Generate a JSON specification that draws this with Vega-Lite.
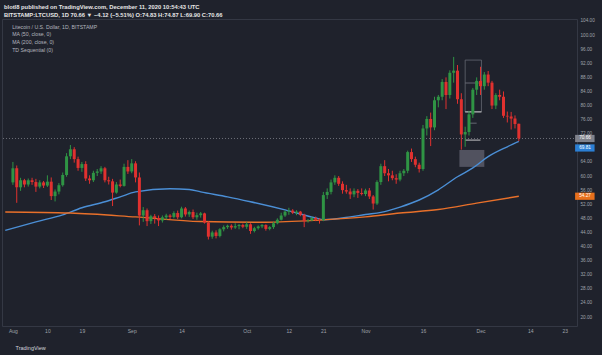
{
  "$schema": "https://vega.github.io/schema/vega-lite/v6.json",
  "width": 575,
  "height": 307,
  "autosize": {"type": "none"},
  "padding": {"left": 2, "top": 19, "right": 25, "bottom": 29},
  "background": "#1f222c",
  "config": {
    "view": {"stroke": "#343844", "strokeWidth": 1},
    "font": "Liberation Sans",
    "legend": {"labelLimit": 0}
  },
  "title": {
    "text": "blotl8 published on TradingView.com, December 11, 2020 10:54:43 UTC",
    "subtitle": "BITSTAMP:LTCUSD, 1D  70.66 ▼ −4.12 (−5.51%)  O:74.83  H:74.87  L:69.90  C:70.66",
    "anchor": "start",
    "frame": "group",
    "orient": "top",
    "offset": 0,
    "dx": 2,
    "font": "Liberation Sans",
    "fontSize": 5.8,
    "fontWeight": "bold",
    "color": "#e6e6e6",
    "subtitleFont": "Liberation Sans",
    "subtitleFontSize": 5.8,
    "subtitleFontWeight": "bold",
    "subtitleColor": "#e6e6e6",
    "subtitlePadding": 2.8
  },
  "datasets": {
    "candles": [
      {"d": "2020-08-01", "o": 58.2, "h": 64.0, "l": 57.5, "c": 62.2},
      {"d": "2020-08-02", "o": 62.2, "h": 63.0, "l": 52.4, "c": 56.8},
      {"d": "2020-08-03", "o": 56.8, "h": 59.5, "l": 55.8, "c": 58.8},
      {"d": "2020-08-04", "o": 58.8, "h": 59.2, "l": 56.8, "c": 57.6},
      {"d": "2020-08-05", "o": 57.6, "h": 59.3, "l": 57.0, "c": 58.8},
      {"d": "2020-08-06", "o": 58.8, "h": 59.5, "l": 57.5, "c": 58.3},
      {"d": "2020-08-07", "o": 58.3, "h": 59.2, "l": 55.5, "c": 57.0},
      {"d": "2020-08-08", "o": 57.0, "h": 58.8, "l": 56.5, "c": 58.2},
      {"d": "2020-08-09", "o": 58.2, "h": 58.6, "l": 56.6, "c": 57.3},
      {"d": "2020-08-10", "o": 57.3, "h": 60.2, "l": 56.9, "c": 58.4},
      {"d": "2020-08-11", "o": 58.4, "h": 59.6, "l": 53.2, "c": 54.3},
      {"d": "2020-08-12", "o": 54.3, "h": 56.2, "l": 52.8, "c": 55.6},
      {"d": "2020-08-13", "o": 55.6, "h": 58.0, "l": 54.8, "c": 57.4},
      {"d": "2020-08-14", "o": 57.4, "h": 61.0, "l": 57.0, "c": 60.3},
      {"d": "2020-08-15", "o": 60.3, "h": 66.5, "l": 59.8, "c": 65.6},
      {"d": "2020-08-16", "o": 65.6, "h": 68.8, "l": 64.8, "c": 67.6},
      {"d": "2020-08-17", "o": 67.6, "h": 68.2, "l": 63.8, "c": 64.8},
      {"d": "2020-08-18", "o": 64.8, "h": 65.5, "l": 61.5, "c": 62.3},
      {"d": "2020-08-19", "o": 62.3, "h": 64.0, "l": 61.2, "c": 63.4},
      {"d": "2020-08-20", "o": 63.4, "h": 64.2, "l": 58.6, "c": 59.3},
      {"d": "2020-08-21", "o": 59.3, "h": 60.2, "l": 57.8, "c": 58.8},
      {"d": "2020-08-22", "o": 58.8, "h": 61.5, "l": 58.3, "c": 60.9},
      {"d": "2020-08-23", "o": 60.9, "h": 62.0, "l": 60.0, "c": 61.3},
      {"d": "2020-08-24", "o": 61.3, "h": 62.8, "l": 60.6, "c": 62.2},
      {"d": "2020-08-25", "o": 62.2, "h": 62.6, "l": 58.2, "c": 58.8},
      {"d": "2020-08-26", "o": 58.8, "h": 59.8, "l": 57.6, "c": 58.5},
      {"d": "2020-08-27", "o": 58.5, "h": 59.2, "l": 51.5, "c": 55.3},
      {"d": "2020-08-28", "o": 55.3, "h": 58.3, "l": 55.0, "c": 57.6},
      {"d": "2020-08-29", "o": 57.6, "h": 59.0, "l": 56.8, "c": 57.2},
      {"d": "2020-08-30", "o": 57.2, "h": 63.5, "l": 57.0, "c": 62.6},
      {"d": "2020-08-31", "o": 62.6, "h": 64.5, "l": 60.6, "c": 61.3},
      {"d": "2020-09-01", "o": 61.3, "h": 64.8, "l": 60.8, "c": 63.6},
      {"d": "2020-09-02", "o": 63.6, "h": 64.2, "l": 58.2, "c": 59.6},
      {"d": "2020-09-03", "o": 59.6, "h": 61.0, "l": 46.0, "c": 48.8},
      {"d": "2020-09-04", "o": 48.8, "h": 51.2, "l": 47.0, "c": 50.3},
      {"d": "2020-09-05", "o": 50.3, "h": 50.8, "l": 45.8, "c": 47.2},
      {"d": "2020-09-06", "o": 47.2, "h": 49.0, "l": 46.4, "c": 48.6},
      {"d": "2020-09-07", "o": 48.6, "h": 49.2, "l": 46.5, "c": 48.1},
      {"d": "2020-09-08", "o": 48.1, "h": 48.8, "l": 45.8, "c": 47.4},
      {"d": "2020-09-09", "o": 47.4, "h": 48.8, "l": 46.8, "c": 48.3},
      {"d": "2020-09-10", "o": 48.3, "h": 49.3, "l": 47.6, "c": 48.8},
      {"d": "2020-09-11", "o": 48.8, "h": 49.2, "l": 47.8, "c": 48.4},
      {"d": "2020-09-12", "o": 48.4, "h": 50.0, "l": 48.0, "c": 49.5},
      {"d": "2020-09-13", "o": 49.5, "h": 50.2, "l": 47.8, "c": 48.3},
      {"d": "2020-09-14", "o": 48.3, "h": 51.3, "l": 48.0, "c": 50.8},
      {"d": "2020-09-15", "o": 50.8, "h": 51.2, "l": 48.5, "c": 49.1},
      {"d": "2020-09-16", "o": 49.1, "h": 50.2, "l": 48.4, "c": 49.8},
      {"d": "2020-09-17", "o": 49.8, "h": 50.5, "l": 47.8, "c": 48.3},
      {"d": "2020-09-18", "o": 48.3, "h": 49.6, "l": 47.6, "c": 48.9},
      {"d": "2020-09-19", "o": 48.9, "h": 49.8, "l": 48.2, "c": 49.4},
      {"d": "2020-09-20", "o": 49.4, "h": 49.6, "l": 46.5, "c": 46.8},
      {"d": "2020-09-21", "o": 46.8, "h": 47.2, "l": 42.0, "c": 42.8},
      {"d": "2020-09-22", "o": 42.8, "h": 44.5, "l": 42.2, "c": 44.0},
      {"d": "2020-09-23", "o": 44.0, "h": 44.6, "l": 42.3, "c": 43.0},
      {"d": "2020-09-24", "o": 43.0, "h": 45.2, "l": 42.6, "c": 44.9},
      {"d": "2020-09-25", "o": 44.9, "h": 46.0, "l": 44.3, "c": 45.5},
      {"d": "2020-09-26", "o": 45.5, "h": 46.2, "l": 45.0, "c": 45.9},
      {"d": "2020-09-27", "o": 45.9, "h": 46.3, "l": 44.8, "c": 45.4},
      {"d": "2020-09-28", "o": 45.4, "h": 46.6, "l": 45.0, "c": 45.8},
      {"d": "2020-09-29", "o": 45.8, "h": 46.4, "l": 44.9, "c": 46.1},
      {"d": "2020-09-30", "o": 46.1, "h": 46.5, "l": 45.2, "c": 45.6},
      {"d": "2020-10-01", "o": 45.6, "h": 47.0, "l": 45.0, "c": 46.3},
      {"d": "2020-10-02", "o": 46.3, "h": 46.6, "l": 43.6, "c": 44.4},
      {"d": "2020-10-03", "o": 44.4, "h": 45.6, "l": 44.0, "c": 45.2},
      {"d": "2020-10-04", "o": 45.2, "h": 46.0, "l": 44.8, "c": 45.7},
      {"d": "2020-10-05", "o": 45.7, "h": 46.4, "l": 45.2, "c": 46.1},
      {"d": "2020-10-06", "o": 46.1, "h": 46.3, "l": 44.5, "c": 45.0},
      {"d": "2020-10-07", "o": 45.0, "h": 45.8, "l": 44.6, "c": 45.5},
      {"d": "2020-10-08", "o": 45.5, "h": 47.0, "l": 45.0, "c": 46.6},
      {"d": "2020-10-09", "o": 46.6, "h": 48.0, "l": 46.3, "c": 47.6},
      {"d": "2020-10-10", "o": 47.6, "h": 49.6, "l": 47.4, "c": 48.8},
      {"d": "2020-10-11", "o": 48.8, "h": 50.2, "l": 48.4, "c": 49.9},
      {"d": "2020-10-12", "o": 49.9, "h": 51.0, "l": 49.0, "c": 50.2},
      {"d": "2020-10-13", "o": 50.2, "h": 50.6, "l": 49.2, "c": 49.6},
      {"d": "2020-10-14", "o": 49.6, "h": 50.3, "l": 48.9, "c": 49.9},
      {"d": "2020-10-15", "o": 49.9, "h": 50.1, "l": 48.6, "c": 49.0},
      {"d": "2020-10-16", "o": 49.0, "h": 49.3, "l": 45.5, "c": 47.2},
      {"d": "2020-10-17", "o": 47.2, "h": 47.8, "l": 46.8, "c": 47.4},
      {"d": "2020-10-18", "o": 47.4, "h": 48.5, "l": 47.2, "c": 48.1},
      {"d": "2020-10-19", "o": 48.1, "h": 48.5, "l": 47.2, "c": 47.6},
      {"d": "2020-10-20", "o": 47.6, "h": 48.0, "l": 46.5, "c": 47.5},
      {"d": "2020-10-21", "o": 47.5, "h": 55.5, "l": 47.2, "c": 54.6},
      {"d": "2020-10-22", "o": 54.6, "h": 56.5, "l": 53.5, "c": 55.5},
      {"d": "2020-10-23", "o": 55.5, "h": 59.0, "l": 54.8, "c": 58.2},
      {"d": "2020-10-24", "o": 58.2, "h": 60.2, "l": 57.5, "c": 59.5},
      {"d": "2020-10-25", "o": 59.5, "h": 60.0, "l": 57.2, "c": 57.8},
      {"d": "2020-10-26", "o": 57.8, "h": 58.5, "l": 55.0, "c": 56.0},
      {"d": "2020-10-27", "o": 56.0, "h": 57.5, "l": 55.0, "c": 55.6},
      {"d": "2020-10-28", "o": 55.6, "h": 56.5, "l": 53.5, "c": 54.8},
      {"d": "2020-10-29", "o": 54.8, "h": 56.5, "l": 54.0, "c": 55.8},
      {"d": "2020-10-30", "o": 55.8, "h": 56.3, "l": 53.8, "c": 55.2},
      {"d": "2020-10-31", "o": 55.2, "h": 56.5, "l": 54.5, "c": 54.9},
      {"d": "2020-11-01", "o": 54.9, "h": 56.4, "l": 54.3, "c": 55.9},
      {"d": "2020-11-02", "o": 55.9, "h": 56.6, "l": 53.5, "c": 54.2},
      {"d": "2020-11-03", "o": 54.2, "h": 54.6, "l": 50.5, "c": 52.2},
      {"d": "2020-11-04", "o": 52.2, "h": 58.8, "l": 51.8, "c": 58.3},
      {"d": "2020-11-05", "o": 58.3, "h": 63.5, "l": 57.5, "c": 62.8},
      {"d": "2020-11-06", "o": 62.8, "h": 64.5, "l": 60.0, "c": 60.8},
      {"d": "2020-11-07", "o": 60.8, "h": 62.0, "l": 58.5, "c": 60.2},
      {"d": "2020-11-08", "o": 60.2, "h": 61.5, "l": 58.8, "c": 59.4},
      {"d": "2020-11-09", "o": 59.4, "h": 60.5, "l": 57.8, "c": 59.0},
      {"d": "2020-11-10", "o": 59.0, "h": 61.5, "l": 58.5, "c": 60.8},
      {"d": "2020-11-11", "o": 60.8, "h": 62.0, "l": 60.0, "c": 61.5},
      {"d": "2020-11-12", "o": 61.5, "h": 67.2, "l": 60.8, "c": 66.8},
      {"d": "2020-11-13", "o": 66.8, "h": 67.8, "l": 64.0, "c": 64.8},
      {"d": "2020-11-14", "o": 64.8, "h": 65.5, "l": 62.5, "c": 63.2},
      {"d": "2020-11-15", "o": 63.2, "h": 63.8, "l": 61.0, "c": 62.0},
      {"d": "2020-11-16", "o": 62.0, "h": 74.5, "l": 61.5, "c": 73.5},
      {"d": "2020-11-17", "o": 73.5, "h": 77.0, "l": 71.5, "c": 76.2},
      {"d": "2020-11-18", "o": 76.2, "h": 78.0, "l": 68.5, "c": 73.8},
      {"d": "2020-11-19", "o": 73.8, "h": 82.5, "l": 73.0, "c": 81.5},
      {"d": "2020-11-20", "o": 81.5, "h": 83.0, "l": 79.5, "c": 82.5},
      {"d": "2020-11-21", "o": 82.5, "h": 87.5, "l": 81.5, "c": 86.7},
      {"d": "2020-11-22", "o": 86.7, "h": 88.0, "l": 79.0, "c": 83.0},
      {"d": "2020-11-23", "o": 83.0, "h": 90.0, "l": 82.0, "c": 89.3},
      {"d": "2020-11-24", "o": 89.3, "h": 93.8, "l": 86.5, "c": 89.9},
      {"d": "2020-11-25", "o": 89.9, "h": 91.5, "l": 80.5, "c": 81.8},
      {"d": "2020-11-26", "o": 81.8, "h": 83.5, "l": 67.5, "c": 71.8},
      {"d": "2020-11-27", "o": 71.8, "h": 74.0, "l": 68.3, "c": 72.5},
      {"d": "2020-11-28", "o": 72.5, "h": 78.5, "l": 71.5, "c": 77.5},
      {"d": "2020-11-29", "o": 77.5, "h": 85.0, "l": 76.5, "c": 84.5},
      {"d": "2020-11-30", "o": 84.5, "h": 88.0, "l": 83.0, "c": 87.0},
      {"d": "2020-12-01", "o": 87.0, "h": 91.0, "l": 83.0, "c": 85.5},
      {"d": "2020-12-02", "o": 85.5, "h": 89.5, "l": 84.5, "c": 88.8},
      {"d": "2020-12-03", "o": 88.8, "h": 89.8, "l": 85.5, "c": 86.5},
      {"d": "2020-12-04", "o": 86.5, "h": 87.0, "l": 79.0, "c": 80.0},
      {"d": "2020-12-05", "o": 80.0, "h": 83.5, "l": 79.0, "c": 83.0},
      {"d": "2020-12-06", "o": 83.0, "h": 84.5, "l": 81.5, "c": 82.5},
      {"d": "2020-12-07", "o": 82.5, "h": 84.0, "l": 76.5, "c": 77.1},
      {"d": "2020-12-08", "o": 77.1, "h": 78.3, "l": 75.2, "c": 76.9},
      {"d": "2020-12-09", "o": 76.9, "h": 78.2, "l": 73.2, "c": 76.3},
      {"d": "2020-12-10", "o": 76.3, "h": 77.2, "l": 73.5, "c": 74.78},
      {"d": "2020-12-11", "o": 74.83, "h": 74.87, "l": 69.9, "c": 70.66}
    ],
    "ma": [
      {"d": "2020-07-30", "v": 44.6, "s": "MA (50, close, 0)"},
      {"d": "2020-08-07", "v": 47.0, "s": "MA (50, close, 0)"},
      {"d": "2020-08-14", "v": 49.0, "s": "MA (50, close, 0)"},
      {"d": "2020-08-19", "v": 51.0, "s": "MA (50, close, 0)"},
      {"d": "2020-08-25", "v": 52.7, "s": "MA (50, close, 0)"},
      {"d": "2020-08-29", "v": 54.1, "s": "MA (50, close, 0)"},
      {"d": "2020-09-02", "v": 55.5, "s": "MA (50, close, 0)"},
      {"d": "2020-09-11", "v": 56.4, "s": "MA (50, close, 0)"},
      {"d": "2020-09-16", "v": 56.2, "s": "MA (50, close, 0)"},
      {"d": "2020-09-19", "v": 55.5, "s": "MA (50, close, 0)"},
      {"d": "2020-09-26", "v": 54.1, "s": "MA (50, close, 0)"},
      {"d": "2020-10-02", "v": 52.7, "s": "MA (50, close, 0)"},
      {"d": "2020-10-11", "v": 50.4, "s": "MA (50, close, 0)"},
      {"d": "2020-10-19", "v": 48.1, "s": "MA (50, close, 0)"},
      {"d": "2020-10-21", "v": 47.6, "s": "MA (50, close, 0)"},
      {"d": "2020-10-28", "v": 48.4, "s": "MA (50, close, 0)"},
      {"d": "2020-11-01", "v": 49.1, "s": "MA (50, close, 0)"},
      {"d": "2020-11-05", "v": 49.7, "s": "MA (50, close, 0)"},
      {"d": "2020-11-10", "v": 51.2, "s": "MA (50, close, 0)"},
      {"d": "2020-11-15", "v": 53.2, "s": "MA (50, close, 0)"},
      {"d": "2020-11-20", "v": 56.1, "s": "MA (50, close, 0)"},
      {"d": "2020-11-25", "v": 59.8, "s": "MA (50, close, 0)"},
      {"d": "2020-11-29", "v": 62.3, "s": "MA (50, close, 0)"},
      {"d": "2020-12-03", "v": 65.5, "s": "MA (50, close, 0)"},
      {"d": "2020-12-08", "v": 68.3, "s": "MA (50, close, 0)"},
      {"d": "2020-12-11", "v": 69.81, "s": "MA (50, close, 0)"},
      {"d": "2020-07-30", "v": 49.8, "s": "MA (200, close, 0)"},
      {"d": "2020-08-16", "v": 49.5, "s": "MA (200, close, 0)"},
      {"d": "2020-09-02", "v": 48.4, "s": "MA (200, close, 0)"},
      {"d": "2020-09-19", "v": 47.1, "s": "MA (200, close, 0)"},
      {"d": "2020-10-06", "v": 46.9, "s": "MA (200, close, 0)"},
      {"d": "2020-10-20", "v": 47.5, "s": "MA (200, close, 0)"},
      {"d": "2020-11-01", "v": 48.4, "s": "MA (200, close, 0)"},
      {"d": "2020-11-10", "v": 49.5, "s": "MA (200, close, 0)"},
      {"d": "2020-11-20", "v": 50.5, "s": "MA (200, close, 0)"},
      {"d": "2020-11-30", "v": 52.3, "s": "MA (200, close, 0)"},
      {"d": "2020-12-11", "v": 54.27, "s": "MA (200, close, 0)"}
    ],
    "price": [{"v": 70.66}],
    "tdbox": [{"a": "2020-11-27", "b": "2020-12-01T06:00", "lo": 78.2, "hi": 92.9}],
    "tdlines": [
      {"a": "2020-11-27", "b": "2020-11-30T12:00", "v": 86.4, "k": "grey"},
      {"a": "2020-11-28", "b": "2020-11-30", "v": 75.0, "k": "grey"},
      {"a": "2020-11-27", "b": "2020-12-01T06:00", "v": 78.2, "k": "white"},
      {"a": "2020-11-27", "b": "2020-12-01", "v": 70.2, "k": "white"}
    ],
    "tdtag": [{"a": "2020-11-25T12:00", "b": "2020-12-02", "lo": 62.6, "hi": 67.4}],
    "labels": [
      {"v": 70.66, "k": "last"},
      {"v": 69.81, "k": "ma50"},
      {"v": 54.27, "k": "ma200"}
    ]
  },
  "encoding": {
    "x": {
      "field": "d",
      "type": "temporal",
      "scale": {
        "type": "utc",
        "domain": [
          {"year": 2020, "month": "jul", "date": 30, "hours": 11, "utc": true},
          {"year": 2020, "month": "dec", "date": 24, "hours": 21, "utc": true}
        ]
      },
      "axis": {
        "orient": "bottom",
        "values": [
          {"year": 2020, "month": "aug", "date": 1, "utc": true},
          {"year": 2020, "month": "aug", "date": 10, "utc": true},
          {"year": 2020, "month": "aug", "date": 19, "utc": true},
          {"year": 2020, "month": "sep", "date": 1, "utc": true},
          {"year": 2020, "month": "sep", "date": 14, "utc": true},
          {"year": 2020, "month": "oct", "date": 1, "utc": true},
          {"year": 2020, "month": "oct", "date": 12, "utc": true},
          {"year": 2020, "month": "oct", "date": 21, "utc": true},
          {"year": 2020, "month": "nov", "date": 1, "utc": true},
          {"year": 2020, "month": "nov", "date": 16, "utc": true},
          {"year": 2020, "month": "dec", "date": 1, "utc": true},
          {"year": 2020, "month": "dec", "date": 14, "utc": true},
          {"year": 2020, "month": "dec", "date": 23, "utc": true}
        ],
        "labelExpr": "utcdate(datum.value) == 1 ? utcFormat(datum.value, '%b') : utcFormat(datum.value, '%-d')",
        "grid": false,
        "ticks": false,
        "domain": false,
        "labelColor": "#9fa2ab",
        "labelFontSize": 5,
        "labelPadding": 2.5,
        "labelFlush": false,
        "labelOverlap": false,
        "title": "TradingView",
        "titleAnchor": "start",
        "titleAlign": "left",
        "titleBaseline": "middle",
        "titleX": 13,
        "titleY": 21,
        "titleFontSize": 5.5,
        "titleFontWeight": "normal",
        "titleColor": "#d1d4dc"
      }
    },
    "y": {
      "type": "quantitative",
      "scale": {"domain": [17.45, 104.56], "nice": false, "zero": false},
      "axis": {
        "orient": "right",
        "values": [20, 24, 28, 32, 36, 40, 44, 48, 52, 56, 60, 64, 72, 76, 80, 84, 88, 92, 96, 100, 104],
        "format": ".2f",
        "grid": false,
        "ticks": false,
        "domain": false,
        "labelColor": "#9fa2ab",
        "labelFontSize": 4.7,
        "labelPadding": 3,
        "title": null
      }
    }
  },
  "layer": [
    {
      "data": {"name": "price"},
      "mark": {"type": "rule", "strokeDash": [1, 2], "strokeWidth": 0.8, "color": "#80838d"},
      "encoding": {"y": {"field": "v", "type": "quantitative"}, "x": null}
    },
    {
      "data": {"name": "tdtag"},
      "mark": {"type": "rect", "fill": "#5b5a68", "opacity": 0.85, "clip": true},
      "encoding": {
        "x": {"field": "a", "type": "temporal"},
        "x2": {"field": "b"},
        "y": {"field": "lo", "type": "quantitative"},
        "y2": {"field": "hi"}
      }
    },
    {
      "data": {"name": "tdbox"},
      "mark": {"type": "rect", "fill": null, "fillOpacity": 0, "stroke": "#6e717b", "strokeWidth": 0.7, "clip": true},
      "encoding": {
        "x": {"field": "a", "type": "temporal"},
        "x2": {"field": "b"},
        "y": {"field": "lo", "type": "quantitative"},
        "y2": {"field": "hi"}
      }
    },
    {
      "data": {"name": "tdlines"},
      "mark": {"type": "rule", "strokeWidth": 0.9, "clip": true},
      "encoding": {
        "x": {"field": "a", "type": "temporal"},
        "x2": {"field": "b"},
        "y": {"field": "v", "type": "quantitative"},
        "color": {"condition": {"test": "datum.k == 'white'", "value": "#d8d8d8"}, "value": "#6e717b"}
      }
    },
    {
      "data": {"name": "ma"},
      "mark": {"type": "line", "strokeWidth": 1.4, "interpolate": "monotone", "clip": true},
      "encoding": {
        "x": {"field": "d", "type": "temporal"},
        "y": {"field": "v", "type": "quantitative"},
        "color": {
          "field": "s",
          "type": "nominal",
          "scale": {
            "domain": ["Litecoin / U.S. Dollar, 1D, BITSTAMP", "MA (50, close, 0)", "MA (200, close, 0)", "TD Sequential (0)"],
            "range": ["#888b94", "#4b8fd6", "#e8702a", "#888b94"]
          },
          "legend": {
            "orient": "top-left",
            "title": null,
            "symbolSize": 0,
            "symbolOpacity": 0,
            "symbolStrokeWidth": 0,
            "labelOffset": 0,
            "labelColor": "#b2b5be",
            "labelFontSize": 5.2,
            "rowPadding": 1.7,
            "offset": 5,
            "padding": 0
          }
        }
      }
    },
    {
      "data": {"name": "candles"},
      "mark": {"type": "rule", "strokeWidth": 1, "clip": true},
      "encoding": {
        "x": {"field": "d", "type": "temporal"},
        "y": {"field": "l", "type": "quantitative"},
        "y2": {"field": "h"},
        "color": {"condition": {"test": "datum.c >= datum.o", "value": "#2f9444"}, "value": "#e0312f"}
      }
    },
    {
      "data": {"name": "candles"},
      "mark": {"type": "bar", "size": 3, "clip": true},
      "encoding": {
        "x": {"field": "d", "type": "temporal"},
        "y": {"field": "o", "type": "quantitative"},
        "y2": {"field": "c"},
        "color": {"condition": {"test": "datum.c >= datum.o", "value": "#2f9444"}, "value": "#e0312f"}
      }
    },
    {
      "data": {"name": "labels"},
      "transform": [{"filter": "datum.k != 'ma50'"}],
      "mark": {"type": "point", "shape": "M-0.2,-0.38H1.85V0.38H-0.2Z", "filled": true, "size": 361, "opacity": 1},
      "encoding": {
        "x": {"value": "width"},
        "y": {"field": "v", "type": "quantitative"},
        "fill": {"condition": {"test": "datum.k == 'ma200'", "value": "#e8701c"}, "value": "#7f828c"}
      }
    },
    {
      "data": {"name": "labels"},
      "transform": [{"filter": "datum.k != 'ma50'"}],
      "mark": {"type": "text", "dx": 8, "align": "center", "baseline": "middle", "fontSize": 4.7, "color": "#ffffff"},
      "encoding": {
        "x": {"value": "width"},
        "y": {"field": "v", "type": "quantitative"},
        "text": {"field": "v", "type": "quantitative", "format": ".2f"}
      }
    },
    {
      "data": {"name": "labels"},
      "transform": [{"filter": "datum.k == 'ma50'"}],
      "mark": {"type": "point", "shape": "M-0.2,-0.38H1.85V0.38H-0.2Z", "filled": true, "size": 361, "opacity": 1, "yOffset": 6.5, "fill": "#2b7fd4"},
      "encoding": {
        "x": {"value": "width"},
        "y": {"field": "v", "type": "quantitative"}
      }
    },
    {
      "data": {"name": "labels"},
      "transform": [{"filter": "datum.k == 'ma50'"}],
      "mark": {"type": "text", "dx": 8, "dy": 6.5, "align": "center", "baseline": "middle", "fontSize": 4.7, "color": "#ffffff"},
      "encoding": {
        "x": {"value": "width"},
        "y": {"field": "v", "type": "quantitative"},
        "text": {"field": "v", "type": "quantitative", "format": ".2f"}
      }
    }
  ]
}
